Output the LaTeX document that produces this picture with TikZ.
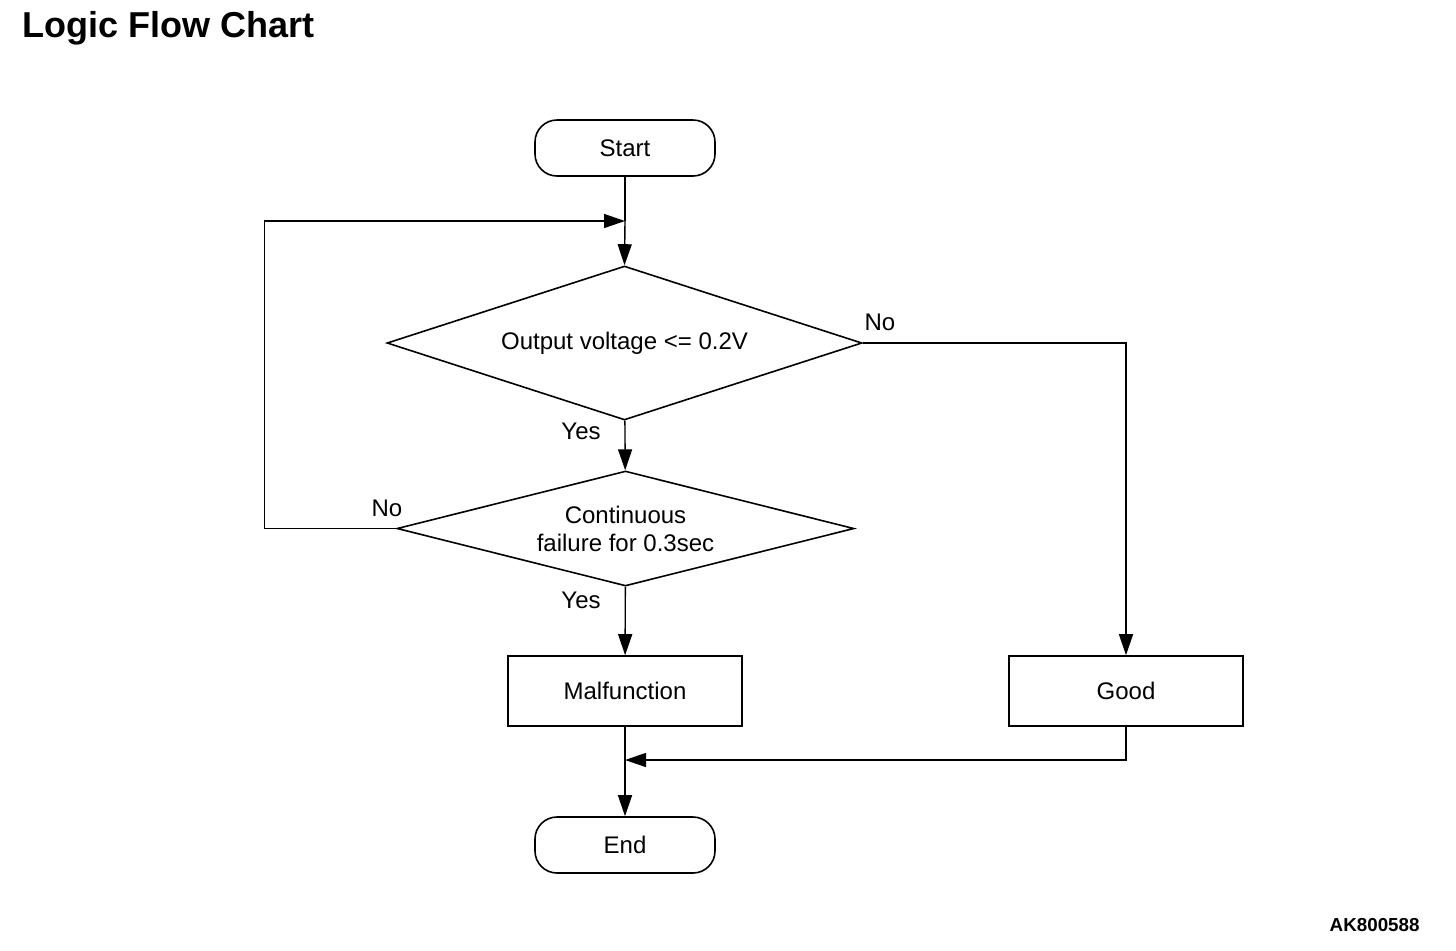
\documentclass[tikz,border=0pt]{standalone}
\usepackage{fontspec}
\setmainfont{Liberation Sans}
\usetikzlibrary{shapes.geometric,arrows.meta}

\tikzset{
    terminal/.style={draw, thick, rounded corners=11pt, minimum width=90pt, minimum height=28pt, font=\fontsize{12}{14}\selectfont},
    process/.style={draw, thick, minimum width=117pt, minimum height=35pt, font=\fontsize{12}{14}\selectfont},
    decision/.style={draw, thick, diamond, aspect=4, inner sep=0pt, align=center, font=\fontsize{12}{14}\selectfont},
    answer/.style={font=\fontsize{12}{14}\selectfont},
    flow/.style={line width=0.7pt, -{Triangle[length=10.5pt,width=7pt]}}
}

\begin{document}
\begin{tikzpicture}[x=0.5pt, y=-0.5pt]
    \useasboundingbox (0,0) rectangle (1456,950);

    % title
    \node[anchor=base west, inner sep=0pt, font=\fontsize{18}{20}\selectfont\bfseries] (title) at (22,37) {Logic Flow Chart};
    \node[anchor=base east, inner sep=0pt, font=\fontsize{9.4}{11}\selectfont\bfseries] (code) at (1420,931) {AK800588};

    % start
    \node[terminal] (start) at (625,148) {Start};
    % decisions
    \node[decision, minimum width=237.5pt, minimum height=77pt] (volt) at (624.5,343) {Output voltage <= 0.2V};
    \node[decision, minimum width=228.5pt, minimum height=57.5pt] (cont) at (625.5,528.5) {Continuous\\failure for 0.3sec};
    % results
    \node[process] (malf) at (625,691) {Malfunction};
    \node[process] (good) at (1126,691) {Good};
    % end
    \node[terminal] (end) at (625,845) {End};

    % labels
    \node[answer] (no1) at (880,322) {No};
    \node[answer] (yes1) at (581,431) {Yes};
    \node[answer] (no2) at (387,508) {No};
    \node[answer] (yes2) at (581,600) {Yes};

    % main line
    \coordinate (loop) at (625,221);
    \coordinate (join) at (625,760);
    \draw[line width=0.7pt] (start) -- (loop);
    \draw[flow] (loop) -- (volt.north);
    \draw[flow] (volt) -- (cont);
    \draw[flow] (cont) -- (malf);
    \draw[flow] (malf) -- (end);
    % No branches
    \draw[flow] (volt.east) -| (good.north);
    \draw[flow] (cont.west) -- ++(-132,0) |- (loop);
    % back from good
    \draw[flow] (good.south) |- (join);
\end{tikzpicture}
\end{document}
